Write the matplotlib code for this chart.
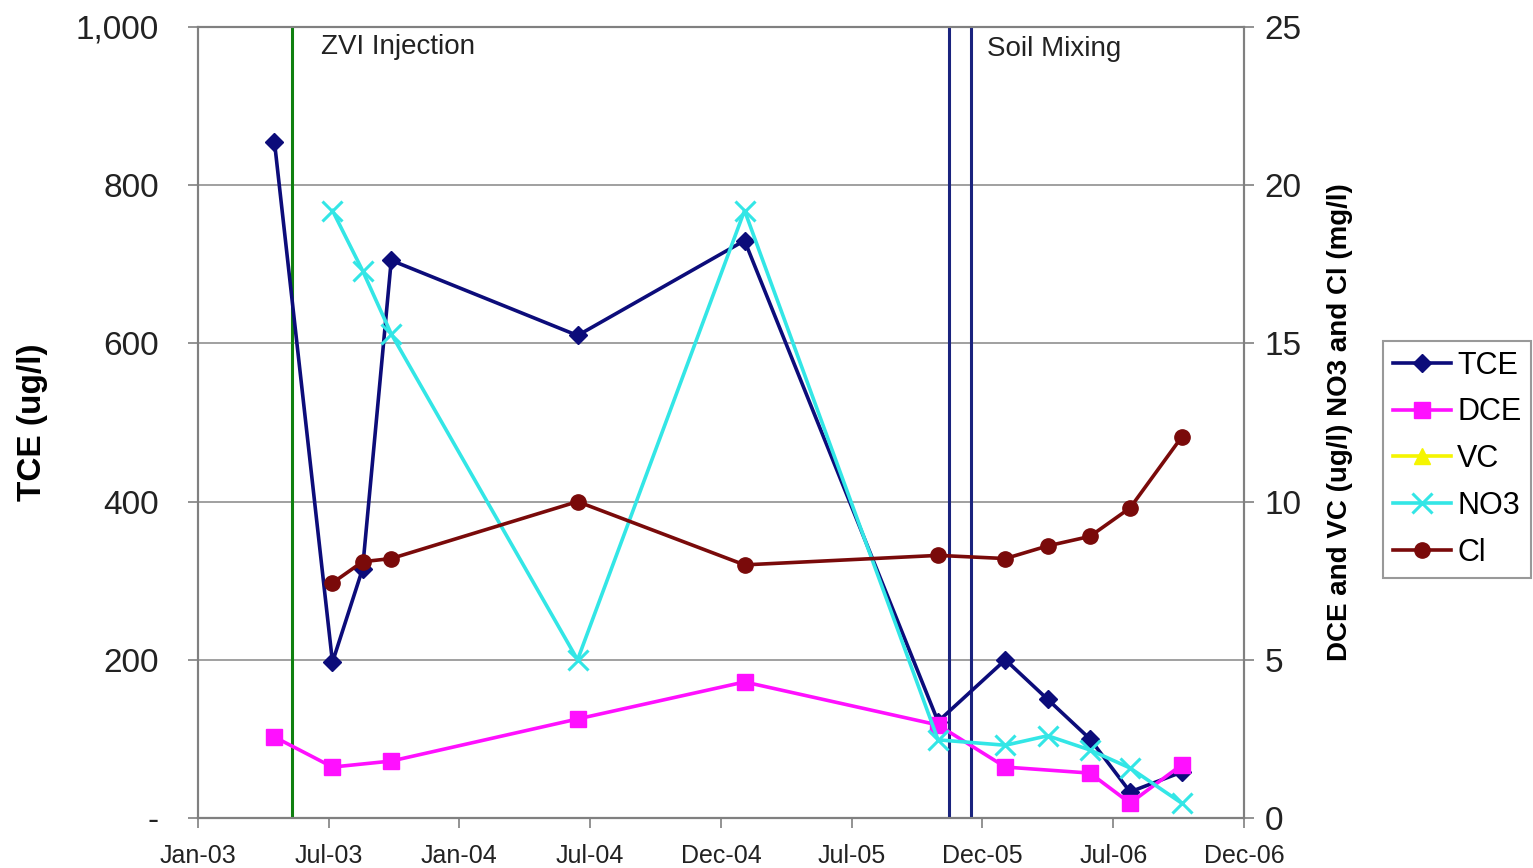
import numpy as np
import pandas as pd
import matplotlib
matplotlib.use("Agg")
import matplotlib.pyplot as plt
import matplotlib.dates as mdates

plt.rcParams['font.family'] = ['Liberation Sans', 'DejaVu Sans']

# sample dates
dates = pd.to_datetime(['2003-04-18', '2003-07-08', '2003-08-19', '2003-09-28',
                        '2004-06-14', '2005-02-02', '2005-10-30', '2006-02-01',
                        '2006-04-01', '2006-05-30', '2006-07-25', '2006-10-05'])

# TCE (ug/l) on left axis
tce = [855, 197, 315, 705, 610, 730, 122, 200, 150, 100, 33, 58]
# right axis series (None = not sampled)
dce = [2.56, 1.61, None, 1.80, 3.13, 4.30, 2.94, 1.61, None, 1.42, 0.47, 1.68]
vc = [None] * 12
no3 = [None, 19.2, 17.3, 15.3, 5.0, 19.2, 2.47, 2.30, 2.60, 2.15, 1.58, 0.47]
cl = [None, 7.43, 8.1, 8.2, 10.0, 8.0, 8.3, 8.2, 8.6, 8.9, 9.8, 12.04]

zvi_date = pd.Timestamp('2003-05-13')
mix_dates = pd.to_datetime(['2005-11-14', '2005-12-15'])

x_start = pd.Timestamp('2003-01-01')
x_end = pd.Timestamp('2006-12-31')
tick_labels = ['Jan-03', 'Jul-03', 'Jan-04', 'Jul-04', 'Dec-04',
               'Jul-05', 'Dec-05', 'Jul-06', 'Dec-06']


def pick(vals):
    d = [dt for dt, v in zip(dates, vals) if v is not None]
    v = [v for v in vals if v is not None]
    return d, v


fig = plt.figure(figsize=(15.33, 8.68), dpi=100)
ax = fig.add_axes([0.129, 0.0576, 0.6825, 0.9113])
ax2 = ax.twinx()

ax.set_xlim(x_start, x_end)
ticks = [x_start + pd.Timedelta(days=182.5 * k) for k in range(9)]
ax.set_xticks(ticks)
ax.set_xticklabels(tick_labels)

ax.set_ylim(0, 1000)
ax.set_yticks(range(0, 1001, 200))
ax.set_yticklabels(['-'] + [f'{v:,}' for v in range(200, 1001, 200)])
ax.grid(axis='y', color='#909090', lw=1.2)
ax.set_axisbelow(True)

ax2.set_ylim(0, 25)
ax2.set_yticks(range(0, 26, 5))

for a in (ax, ax2):
    for s in a.spines.values():
        s.set_color('#808080')
        s.set_linewidth(1.5)
    a.tick_params(axis='both', length=7, width=1.2, color='#808080',
                  labelsize=24, pad=8, labelcolor='#222222')
ax.spines['bottom'].set_color('#404040')
ax.tick_params(axis='y', pad=21)
ax.tick_params(axis='x', labelsize=18, pad=12)

# event lines
ax.axvline(zvi_date, color='#108010', lw=2.2)
for d in mix_dates:
    ax.axvline(d, color='#1a237e', lw=2.2)
ax.text(pd.Timestamp('2003-06-22'), 975, 'ZVI Injection', fontsize=20,
        va='center', ha='left', color='#222222')
ax.text(pd.Timestamp('2006-01-07'), 972, 'Soil Mixing', fontsize=20,
        va='center', ha='left', color='#222222')

lw = 2.6
h_tce, = ax.plot(dates, tce, color='#0c0c7a', lw=lw, marker='D', ms=9, label='TCE')
d, v = pick(dce)
h_dce, = ax2.plot(d, v, color='#ff10ff', lw=lw, marker='s', ms=12, label='DCE')
d, v = pick(vc)
h_vc, = ax2.plot(d, v, color='#f5f500', lw=lw, marker='^', ms=11, label='VC')
d, v = pick(no3)
h_no3, = ax2.plot(d, v, color='#33e6e6', lw=lw, marker='x', ms=14, mew=2.2, label='NO3')
d, v = pick(cl)
h_cl, = ax2.plot(d, v, color='#7a0a0a', lw=lw, marker='o', ms=11, label='Cl')

ax.set_ylabel('TCE (ug/l)', fontsize=24, fontweight='bold', labelpad=20)
ax2.set_ylabel('DCE and VC (ug/l) NO3 and Cl (mg/l)', fontsize=20,
               fontweight='bold', labelpad=18)

leg = fig.legend(handles=[h_tce, h_dce, h_vc, h_no3, h_cl],
                 loc='center left', bbox_to_anchor=(0.9022, 0.471),
                 fontsize=22, frameon=True, fancybox=False,
                 handlelength=1.9, handletextpad=0.2, labelspacing=0.55,
                 borderpad=0.32, borderaxespad=0)
leg.get_frame().set_edgecolor('#808080')
leg.get_frame().set_linewidth(1.5)

fig.savefig('out.png', dpi=100)
